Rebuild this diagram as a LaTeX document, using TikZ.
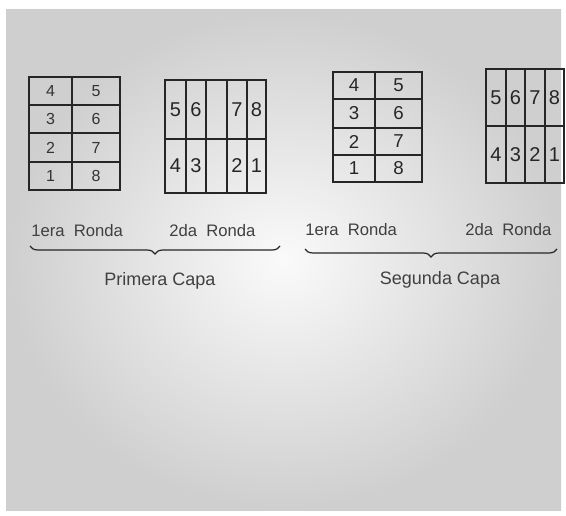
\documentclass[tikz,border=0pt]{standalone}
\usepackage{fontspec}
\setmainfont{Liberation Sans}
\usetikzlibrary{decorations.pathreplacing}

\begin{document}
\begin{tikzpicture}[
    x=0.75pt, y=-0.75pt,
    grid/.style   = {draw=black!85, line width=0.8pt},
    numa/.style   = {font=\fontsize{12}{12}\selectfont, text=black!80, inner sep=0pt},
    numb/.style   = {font=\fontsize{15}{15}\selectfont, text=black!85, inner sep=0pt},
    numc/.style   = {font=\fontsize{14}{14}\selectfont, text=black!85, inner sep=0pt},
    lbl/.style    = {font=\fontsize{12.5}{12.5}\selectfont, text=black!75, inner sep=0pt},
    capa/.style   = {font=\fontsize{13.5}{13.5}\selectfont, text=black!75, inner sep=0pt},
    brc/.style    = {draw=black!85, line width=0.9pt,
                     decorate, decoration={brace, mirror, amplitude=6pt}},
]

%% ── Frame (photo background) ────────────────────────────────────────────────
\useasboundingbox (0,0) rectangle (566,516);
\fill[white] (0,0) rectangle (566,516);
\shade[inner color=gray!4, outer color=gray!38] (6,10) rectangle (561,510);

%% ── Primera capa, 1era ronda ────────────────────────────────────────────────
\draw[grid] (29,77) rectangle (120,190);
\draw[grid] (72,77) -- (72,190);
\foreach \y in {105,133,162} \draw[grid] (29,\y) -- (120,\y);
\foreach \l/\r/\y [count=\i] in {4/5/91, 3/6/119, 2/7/147.5, 1/8/176} {
  \node[numa] (pa-l\i) at (50.5,\y) {\l};
  \node[numa] (pa-r\i) at (96,\y)   {\r};
}

%% ── Primera capa, 2da ronda ─────────────────────────────────────────────────
\draw[grid] (165,80) rectangle (266,193);
\draw[grid] (165,139) -- (266,139);
\foreach \x in {186,206,227,247} \draw[grid] (\x,80) -- (\x,193);
\foreach \t/\b/\x [count=\i] in {5/4/175.5, 6/3/196, 7/2/237, 8/1/256.5} {
  \node[numb] (pb-t\i) at (\x,109.5) {\t};
  \node[numb] (pb-b\i) at (\x,166)   {\b};
}

%% ── Segunda capa, 1era ronda ────────────────────────────────────────────────
\draw[grid] (333,72) rectangle (422,182);
\draw[grid] (375,72) -- (375,182);
\foreach \y in {99,128,155} \draw[grid] (333,\y) -- (422,\y);
\foreach \l/\r/\y [count=\i] in {4/5/85.5, 3/6/113.5, 2/7/141.5, 1/8/168.5} {
  \node[numc] (sa-l\i) at (354,\y)   {\l};
  \node[numc] (sa-r\i) at (398.5,\y) {\r};
}

%% ── Segunda capa, 2da ronda ─────────────────────────────────────────────────
\draw[grid] (486,69) rectangle (564,183);
\draw[grid] (486,126) -- (564,126);
\foreach \x in {506,525,545} \draw[grid] (\x,69) -- (\x,183);
\foreach \t/\b/\x [count=\i] in {5/4/496, 6/3/515.5, 7/2/535, 8/1/554.5} {
  \node[numb] (sb-t\i) at (\x,97.5)  {\t};
  \node[numb] (sb-b\i) at (\x,154.5) {\b};
}

%% ── Labels and braces ───────────────────────────────────────────────────────
\node[lbl, anchor=west] (pr1) at (31,231)  {1era\ \ Ronda};
\node[lbl, anchor=west] (pr2) at (169,231) {2da\ \ Ronda};
\node[lbl, anchor=west] (sr1) at (305,230) {1era\ \ Ronda};
\node[lbl, anchor=west] (sr2) at (465,230) {2da\ \ Ronda};

\coordinate (pbl) at (30,246);
\coordinate (pbr) at (280,246);
\coordinate (sbl) at (305,249);
\coordinate (sbr) at (557,249);
\draw[brc] (pbl) -- (pbr);
\draw[brc] (sbl) -- (sbr);

\node[capa] (pcapa) at (160,281) {Primera Capa};
\node[capa] (scapa) at (440,280) {Segunda Capa};

\end{tikzpicture}
\end{document}
